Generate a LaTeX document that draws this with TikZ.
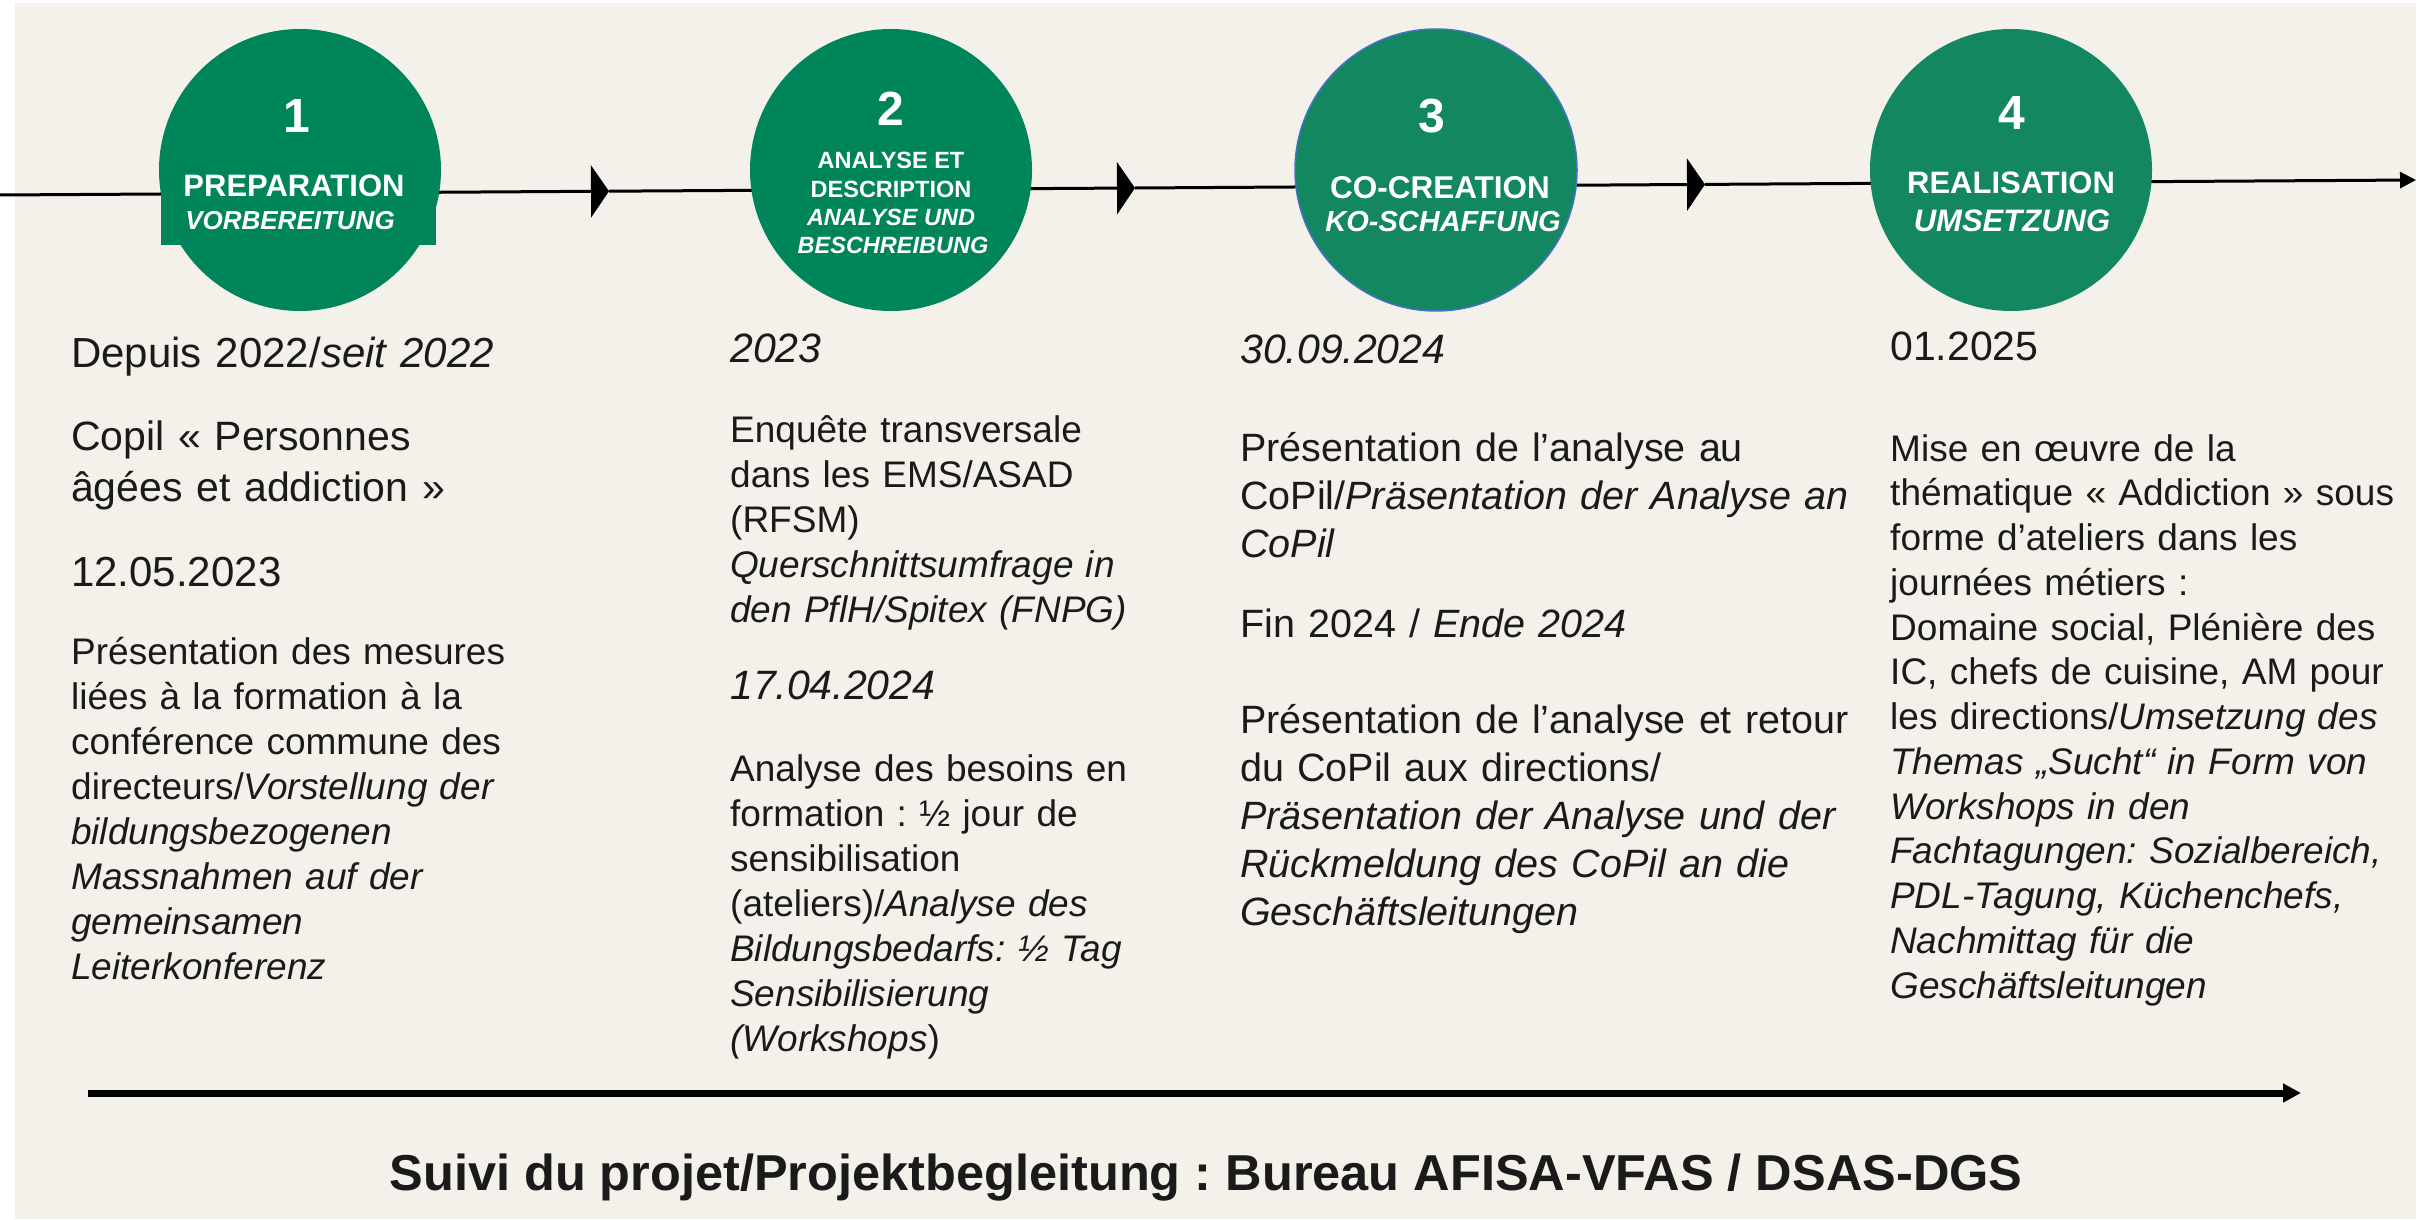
\documentclass[tikz,border=0pt]{standalone}
\usepackage{fontspec}
\setmainfont{Liberation Sans}
\usetikzlibrary{arrows.meta}
\definecolor{bgbeige}{HTML}{F4F1EA}
\definecolor{greenA}{HTML}{00855A}
\definecolor{greenB}{HTML}{13875F}
\definecolor{ringblue}{HTML}{4472C4}
\definecolor{ink}{HTML}{1A1A1A}
\frenchspacing
\begin{document}
\frenchspacing
\begin{tikzpicture}[x=1pt,y=-1pt,
  phase/.style={circle, minimum size=282pt, inner sep=0pt, fill=#1},
  ctext/.style={text=white, anchor=base, inner sep=0pt},
  numf/.style={ctext, font=\fontsize{48}{48}\bfseries},
  tline/.style={line width=3pt, draw=black},
  midtip/.style={-{Triangle[length=18pt,width=52pt]}},
  body/.style={anchor=base west, align=left, inner sep=0pt, text width=720pt, text=ink},
  txA/.style={body, font=\fontsize{37}{45}\selectfont},
  txD/.style={body, font=\fontsize{41}{51}\selectfont},
  txC/.style={body, font=\fontsize{39.5}{48}\selectfont},
  txE/.style={body, font=\fontsize{37}{44.75}\selectfont}
]
\useasboundingbox (0,0) rectangle (2425,1220);
\fill[bgbeige] (15,3) rectangle (2416,1219);

% timeline
\coordinate (tl0) at (0,195);
\coordinate (m1) at (609,191.2);
\coordinate (m2) at (1135,188);
\coordinate (m3) at (1705,184.4);
\coordinate (tlend) at (2416,180);
\draw[tline, midtip] (tl0) -- (m1);
\draw[tline, midtip] (m1) -- (m2);
\draw[tline, midtip] (m2) -- (m3);
\draw[tline, -{Triangle[length=16pt,width=16pt]}] (m3) -- (tlend);

% phase circles
\node[phase=greenA] (c1) at (300,170) {};
\fill[greenA] (161,160) rectangle (436,245);
\node[phase=greenA] (c2) at (891,170) {};
\node[phase=greenB, draw=ringblue, line width=1.5pt] (c3) at (1436,170) {};
\node[phase=greenB] (c4) at (2011,170) {};

\node[numf] (n1) at (297,133) {1};
\node[ctext, font=\fontsize{31}{31}\bfseries] (p1a) at (294,196) {PREPARATION};
\node[ctext, font=\fontsize{26}{26}\bfseries\itshape] (p1b) at (290,229) {VORBEREITUNG};

\node[numf] (n2) at (891,126) {2};
\node[ctext, font=\fontsize{23.5}{23.5}\bfseries] (p2a) at (891,168) {ANALYSE ET};
\node[ctext, font=\fontsize{23.5}{23.5}\bfseries] (p2b) at (891,197) {DESCRIPTION};
\node[ctext, font=\fontsize{23.5}{23.5}\bfseries\itshape] (p2c) at (891,225) {ANALYSE UND};
\node[ctext, font=\fontsize{23.5}{23.5}\bfseries\itshape] (p2d) at (893,253) {BESCHREIBUNG};

\node[numf] (n3) at (1432,133) {3};
\node[ctext, font=\fontsize{31.5}{31.5}\bfseries] (p3a) at (1440,198) {CO-CREATION};
\node[ctext, font=\fontsize{29}{29}\bfseries\itshape] (p3b) at (1443,231) {KO-SCHAFFUNG};

\node[numf] (n4) at (2012,130) {4};
\node[ctext, font=\fontsize{31}{31}\bfseries] (p4a) at (2011,193) {REALISATION};
\node[ctext, font=\fontsize{31}{31}\bfseries\itshape] (p4b) at (2012,231) {UMSETZUNG};

% column 1
\node[body, font=\fontsize{42}{51}\selectfont] (a1) at (71,367) {Depuis 2022/\textit{seit 2022}};
\node[txD] (a2) at (71,450) {Copil « Personnes\\âgées et addiction »};
\node[body, font=\fontsize{42}{51}\selectfont] (a3) at (71,586) {12.05.2023};
\node[txA] (a4) at (71,664) {Présentation des mesures\\liées à la formation à la\\conférence commune des\\directeurs/\textit{Vorstellung der}\\\textit{bildungsbezogenen}\\\textit{Massnahmen auf der}\\\textit{gemeinsamen}\\\textit{Leiterkonferenz}};

% column 2
\node[body, font=\fontsize{41}{51}\itshape] (b1) at (730,362) {2023};
\node[txA] (b2) at (730,442) {Enquête transversale\\dans les EMS/ASAD\\(RFSM)\\\textit{Querschnittsumfrage in}\\\textit{den PflH/Spitex (FNPG)}};
\node[body, font=\fontsize{41}{51}\itshape] (b3) at (730,699) {17.04.2024};
\node[txA] (b4) at (730,781) {Analyse des besoins en\\formation : ½ jour de\\sensibilisation\\(ateliers)/\textit{Analyse des}\\\textit{Bildungsbedarfs: ½ Tag}\\\textit{Sensibilisierung}\\\textit{(Workshops})};

% column 3
\node[body, font=\fontsize{41}{51}\itshape] (d1) at (1240,363) {30.09.2024};
\node[txC] (d2) at (1240,461) {Présentation de l’analyse au\\CoPil/\textit{Präsentation der Analyse an}\\\textit{CoPil}};
\node[txC] (d3) at (1240,637) {Fin 2024 / \textit{Ende 2024}};
\node[txC] (d4) at (1240,733) {Présentation de l’analyse et retour\\du CoPil aux directions/\\\textit{Präsentation der Analyse und der}\\\textit{Rückmeldung des CoPil an die}\\\textit{Geschäftsleitungen}};

% column 4
\node[body, font=\fontsize{41}{51}\selectfont] (e1) at (1890,360) {01.2025};
\node[txE] (e2) at (1890,461) {Mise en œuvre de la\\thématique « Addiction » sous\\forme d’ateliers dans les\\journées métiers :\\Domaine social, Plénière des\\IC, chefs de cuisine, AM pour\\les directions/\textit{Umsetzung des}\\\textit{Themas „Sucht“ in Form von}\\\textit{Workshops in den}\\\textit{Fachtagungen: Sozialbereich,}\\\textit{PDL-Tagung, Küchenchefs,}\\\textit{Nachmittag für die}\\\textit{Geschäftsleitungen}};

% bottom
\coordinate (bstart) at (88,1093);
\coordinate (bend) at (2301,1093);
\draw[line width=7pt, -{Triangle[length=18pt,width=18pt]}] (bstart) -- (bend);
\node[anchor=base, inner sep=0pt, text=ink, font=\fontsize{50.5}{50.5}\bfseries] (foot) at (1206,1190) {Suivi du projet/Projektbegleitung : Bureau AFISA-VFAS / DSAS-DGS};
\end{tikzpicture}
\end{document}
